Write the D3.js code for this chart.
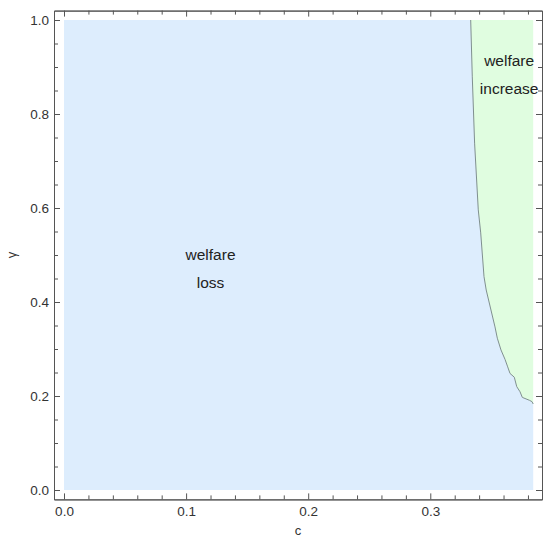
<!DOCTYPE html>
<html>
<head>
<meta charset="utf-8">
<script src="https://cdn.jsdelivr.net/npm/d3@7"></script>
<style>
html,body{margin:0;padding:0;background:#fff;}
svg{display:block;font-family:"Liberation Sans",Arial,sans-serif;}
</style>
</head>
<body>
<svg id="chart" width="543" height="537"></svg>
<script>
// ---- data ----
const cMajorTicks = [0, 0.1, 0.2, 0.3];
const cMinorTicks = [0.02,0.04,0.06,0.08,0.12,0.14,0.16,0.18,0.22,0.24,0.26,0.28,0.32,0.34,0.36,0.38];
const gammaMajorTicks = [0, 0.2, 0.4, 0.6, 0.8, 1.0];
const gammaMinorTicks = [0.05,0.1,0.15,0.25,0.3,0.35,0.45,0.5,0.55,0.65,0.7,0.75,0.85,0.9,0.95];
const cRange = [0, 0.3843];
const gammaRange = [0, 1];
// boundary between "welfare loss" and "welfare increase" (top to bottom)
const boundaryC =     [0.3331,0.3344,0.3363,0.3393,0.3413,0.3440,0.3458,0.3497,0.3530,0.3549,0.3579,0.3612,0.3634,0.3653,0.3688,0.3708,0.3735,0.3754,0.3811,0.3833,0.3843];
const boundaryGamma = [1.0,   0.879, 0.738, 0.596, 0.547, 0.454, 0.4255,0.383, 0.347, 0.323, 0.298, 0.278, 0.262, 0.248, 0.240, 0.220, 0.209, 0.197, 0.191, 0.188, 0.183];
const regionLabels = [
  {lines:["welfare","loss"], c:0.12, g:0.49},
  {lines:["welfare","increase"], c:0.3646, g:0.903}
];
const xLabel = "c";
const yLabel = "γ";

// ---- layout ----
const svg = d3.select("#chart");
const frame = {left:54, right:542, top:10.6, bottom:499.4};
const x = d3.scaleLinear().domain([-0.0082, 0.3915]).range([frame.left, frame.right]);
const y = d3.scaleLinear().domain([-0.02, 1.02]).range([frame.bottom, frame.top]);

const boundary = boundaryC.map((c,i)=>[c, boundaryGamma[i]]);
const lossPoly = [[cRange[0],gammaRange[0]],[cRange[1],gammaRange[0]]]
  .concat(boundary.slice().reverse())
  .concat([[cRange[0],gammaRange[1]]]);
const incPoly = boundary.concat([[cRange[1],gammaRange[1]]]);

const line = d3.line().x(d=>x(d[0])).y(d=>y(d[1]));

svg.append("path").attr("d", line(lossPoly)+"Z").attr("fill","#ddedfd").attr("stroke","none");
svg.append("path").attr("d", line(incPoly)+"Z").attr("fill","#e0fde0").attr("stroke","none");
svg.append("path").attr("d", line(boundary)).attr("fill","none").attr("stroke","#7f8f8f").attr("stroke-width",1);

// ---- axes (frame with inward ticks) ----
const axisColor = "#555";
const fmt = d3.format(".1f");
function styleAxis(g){
  g.select(".domain").attr("stroke",axisColor);
  g.selectAll(".tick line").attr("stroke",axisColor);
  g.selectAll(".tick text").attr("fill","#333").attr("font-size","13.5px").attr("font-family","'Liberation Sans',Arial,sans-serif");
}
// bottom
svg.append("g").attr("transform",`translate(0,${frame.bottom})`)
  .call(d3.axisBottom(x).tickValues(cMajorTicks).tickFormat(fmt).tickSizeInner(-6).tickSizeOuter(0).tickPadding(7))
  .call(styleAxis);
svg.append("g").attr("transform",`translate(0,${frame.bottom})`)
  .call(d3.axisBottom(x).tickValues(cMinorTicks).tickFormat("").tickSizeInner(-4).tickSizeOuter(0))
  .call(styleAxis);
// top
svg.append("g").attr("transform",`translate(0,${frame.top})`)
  .call(d3.axisTop(x).tickValues(cMajorTicks).tickFormat("").tickSizeInner(-6).tickSizeOuter(0))
  .call(styleAxis);
svg.append("g").attr("transform",`translate(0,${frame.top})`)
  .call(d3.axisTop(x).tickValues(cMinorTicks).tickFormat("").tickSizeInner(-4).tickSizeOuter(0))
  .call(styleAxis);
// left
svg.append("g").attr("transform",`translate(${frame.left},0)`)
  .call(d3.axisLeft(y).tickValues(gammaMajorTicks).tickFormat(fmt).tickSizeInner(-6).tickSizeOuter(0).tickPadding(5))
  .call(styleAxis);
svg.append("g").attr("transform",`translate(${frame.left},0)`)
  .call(d3.axisLeft(y).tickValues(gammaMinorTicks).tickFormat("").tickSizeInner(-4).tickSizeOuter(0))
  .call(styleAxis);
// right
svg.append("g").attr("transform",`translate(${frame.right},0)`)
  .call(d3.axisRight(y).tickValues(gammaMajorTicks).tickFormat("").tickSizeInner(-6).tickSizeOuter(0))
  .call(styleAxis);
svg.append("g").attr("transform",`translate(${frame.right},0)`)
  .call(d3.axisRight(y).tickValues(gammaMinorTicks).tickFormat("").tickSizeInner(-4).tickSizeOuter(0))
  .call(styleAxis);

// ---- axis labels ----
svg.append("text").attr("x",(frame.left+frame.right)/2).attr("y",535)
  .attr("text-anchor","middle").attr("font-size","13px").attr("fill","#333").text(xLabel);
svg.append("text").attr("transform",`translate(16,${(frame.top+frame.bottom)/2}) rotate(-90)`)
  .attr("text-anchor","middle").attr("font-size","13px").attr("fill","#333").text(yLabel);

// ---- region labels ----
regionLabels.forEach(r=>{
  const t = svg.append("text").attr("text-anchor","middle").attr("font-size","15.5px").attr("fill","#222");
  r.lines.forEach((l,i)=>{
    t.append("tspan").attr("x",x(r.c)).attr("y",y(r.g)+i*28).text(l);
  });
});
</script>
</body>
</html>
